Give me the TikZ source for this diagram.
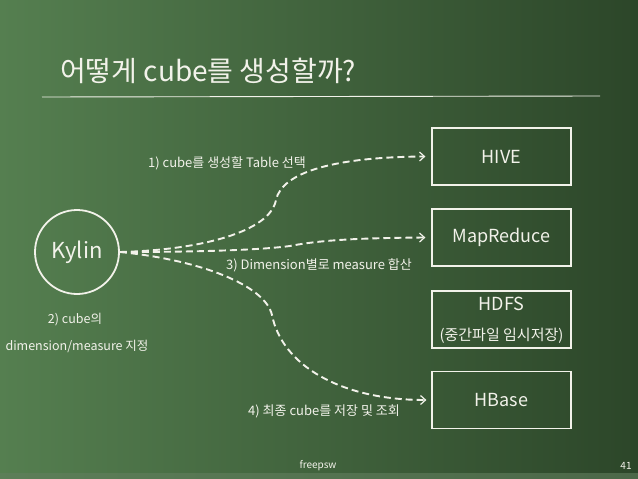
\documentclass[tikz,border=0pt]{standalone}
\usepackage{fontspec}
\setmainfont{Noto Sans CJK KR}
\usetikzlibrary{arrows.meta}
\definecolor{boardL}{HTML}{557F50}
\definecolor{boardR}{HTML}{2C4629}
\definecolor{chalk}{HTML}{F2F2EA}
\tikzset{
  chalktext/.style={text=chalk, inner sep=0pt},
  flow/.style={draw=chalk, line width=1.9pt, dash pattern=on 7pt off 4pt, -{Straight Barb[length=5pt,width=9pt,line width=1.2pt]}},
  sysbox/.style={draw=chalk, line width=1.2pt, minimum width=139pt, minimum height=57pt, inner sep=0pt},
  lbl/.style={chalktext, font=\fontsize{13}{15}\selectfont},
  boxtext/.style={chalktext, font=\fontsize{18}{20}\selectfont},
}
\begin{document}
\begin{tikzpicture}[x=1pt,y=-1pt]
\shade[left color=boardL, right color=boardR] (0,0) rectangle (638,479);
\fill[boardL!70!gray, opacity=0.6] (0,473) rectangle (638,479);
\useasboundingbox (0,0) rectangle (638,479);
% title
\node[chalktext, font=\fontsize{28}{32}\selectfont, anchor=west] (title) at (60,71) {어떻게 cube를 생성할까?};
\coordinate (ulA) at (42,97);
\coordinate (ulB) at (600,96);
\draw[chalk, line width=0.9pt] (ulA) -- (ulB);
% Kylin
\node[draw=chalk, line width=1.8pt, circle, minimum size=84pt, inner sep=0pt, text=chalk, font=\fontsize{22}{24}\selectfont] (kylin) at (77,252) {Kylin};
\node[lbl, font=\fontsize{12.5}{14}\selectfont] (k1) at (75,320) {2) cube의};
\node[lbl, font=\fontsize{12.5}{14}\selectfont] (k2) at (77,346) {dimension/measure 지정};
% boxes
\node[sysbox] (hive) at (501.5,156.5) {};
\node[boxtext] (hivet) at (hive.center) {HIVE};
\node[sysbox] (mr) at (501.5,237.5) {};
\node[boxtext] (mrt) at (mr.center) {MapReduce};
\node[sysbox] (hdfs) at (501.5,319.5) {};
\node[boxtext] (hdfst) at (501.5,304) {HDFS};
\node[chalktext, font=\fontsize{15}{17}\selectfont] (hdfss) at (501.5,336) {(중간파일 임시저장)};
\node[sysbox] (hbase) at (501.5,400) {};
\node[boxtext] (hbaset) at (hbase.center) {HBase};
% arrows
\coordinate (s) at (kylin.east);
\draw[flow] (s) .. controls (200,250) and (270,232) .. (276,200)
  .. controls (282,172) and (335,157) .. ([xshift=-6pt]hive.west);
\draw[flow] (s) .. controls (200,252) and (260,250) .. (290,246)
  .. controls (320,240) and (360,238) .. ([xshift=-6pt]mr.west);
\draw[flow] (s) .. controls (200,260) and (265,285) .. (272,315)
  .. controls (282,365) and (340,400) .. ([xshift=-5pt]hbase.west);
% labels
\node[lbl] (l1) at (227,163) {1) cube를 생성할 Table 선택};
\node[lbl] (l3) at (319,265) {3) Dimension별로 measure 합산};
\node[lbl] (l4) at (324,411) {4) 최종 cube를 저장 및 조회};
% footer
\node[chalktext, font=\fontsize{10}{12}\selectfont] (foot) at (318,466) {freepsw};
\node[chalktext, font=\fontsize{10}{12}\selectfont] (pg) at (626,466) {41};
\end{tikzpicture}
\end{document}
